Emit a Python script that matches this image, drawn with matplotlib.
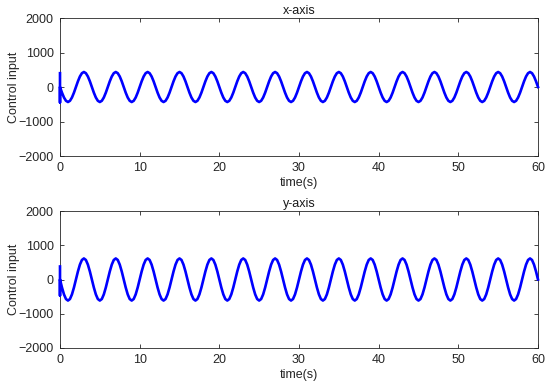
import numpy as np
import matplotlib.pyplot as plt

plt.rcParams['font.family'] = ['Liberation Sans', 'DejaVu Sans']

x_period = [0, -165, -305, -400, -435, -400, -305, -165,
            0, 165, 305, 400, 435, 400, 305, 165]
y_period = [0, -235, -435, -570, -615, -570, -435, -235,
            0, 235, 435, 570, 615, 570, 435, 235]
n_periods = 15
dt = 0.25

# start-up spike at t = 0
x_spike = [400, -450]
y_spike = [380, -470]

titles = ['x-axis', 'y-axis']
xticks = [0, 10, 20, 30, 40, 50, 60]
yticks = [-2000, -1000, 0, 1000, 2000]

t_grid = np.arange(0, n_periods * len(x_period) + 1) * dt


def build(period, spike):
    vals = list(np.tile(period, n_periods)) + [period[0]]
    t = np.concatenate([[0, 0], t_grid])
    v = np.concatenate([spike, vals])
    return t, v


fig = plt.figure(figsize=(5.5, 3.87), dpi=100)
axes = [fig.add_axes([60/550, 1 - 156/387, 478/550, 138/387]),
        fig.add_axes([60/550, 1 - 348/387, 478/550, 137/387])]

for ax, period, spike, title in zip(axes, [x_period, y_period],
                                    [x_spike, y_spike], titles):
    t, v = build(period, spike)
    ax.plot(t, v, color='#0000ff', lw=1.9, zorder=3, clip_on=False)
    ax.set_xlim(0, 60)
    ax.set_ylim(-2000, 2000)
    ax.set_xticks(xticks)
    ax.set_yticks(yticks)
    ax.tick_params(direction='in', top=True, right=True, labelsize=9,
                   length=3, width=0.6, colors='#262626', pad=4.5)
    for s in ax.spines.values():
        s.set_linewidth(0.6)
        s.set_color('#262626')
    ax.set_title(title, fontsize=9, pad=3, color='#1a1a1a')
    ax.set_xlabel('time(s)', fontsize=9, labelpad=2, color='#262626')
    ax.set_ylabel('Control input', fontsize=9, labelpad=-1, color='#262626')

fig.savefig('out.png', dpi=100)
